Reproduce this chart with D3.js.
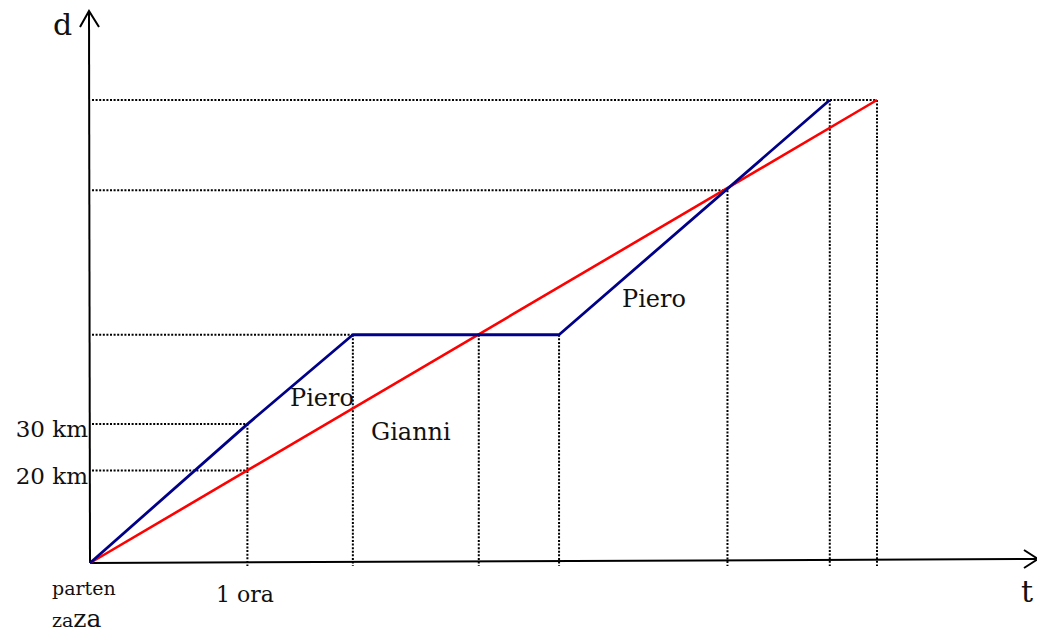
<!DOCTYPE html>
<html lang="it">
<head>
<meta charset="UTF-8">
<title>Piero e Gianni</title>
<script src="https://d3js.org/d3.v7.min.js"></script>
<style>
    body { margin: 0; background: #fff; }
    svg text { font-family: "DejaVu Serif", serif; fill: #111; }
</style>
</head>
<body>
<svg id="chart"></svg>
<script>
// tempo in ore, distanza in km
var pieroT = [0, 1, 1.67, 2.98, 4.7];
var pieroD = [0, 30, 49.3, 49.3, 100];
var gianniT = [0, 5];
var gianniD = [0, 100];

// linee tratteggiate di riferimento
var hGuideD = [100, 80.5, 49.3, 30, 20];
var hGuideT = [5, 4.05, 1.67, 1, 1];
var vGuideT = [1, 1.67, 2.47, 2.98, 4.05, 4.7, 5];
var vGuideD = [30, 49.3, 49.3, 49.3, 80.5, 100, 100];

var yTicks = [20, 30];
var yTickLabels = ["20 km", "30 km"];
var xTicks = [1];
var xTickLabels = ["1 ora"];

var width = 1037, height = 632;

var svg = d3.select("#chart").attr("width", width).attr("height", height);

var x = d3.scaleLinear().domain([0, 5]).range([90, 877]);
var y = d3.scaleLinear().domain([0, 100]).range([563, 100]);

// guide orizzontali
svg.selectAll(".hguide")
    .data(hGuideD)
    .enter()
    .append("line")
    .attr("class", "hguide")
    .attr("x1", x(0) + 2)
    .attr("x2", function(d, i) { return x(hGuideT[i]); })
    .attr("y1", function(d) { return y(d); })
    .attr("y2", function(d) { return y(d); })
    .attr("stroke", "#000")
    .attr("stroke-width", 2)
    .attr("stroke-dasharray", "2,1.6");

// guide verticali
svg.selectAll(".vguide")
    .data(vGuideT)
    .enter()
    .append("line")
    .attr("class", "vguide")
    .attr("x1", function(d) { return x(d); })
    .attr("x2", function(d) { return x(d); })
    .attr("y1", function(d, i) { return y(vGuideD[i]); })
    .attr("y2", y(0) + 3)
    .attr("stroke", "#000")
    .attr("stroke-width", 2)
    .attr("stroke-dasharray", "2,1.6");

// assi
svg.append("line")
    .attr("x1", x(0)).attr("y1", y(0))
    .attr("x2", 1036).attr("y2", y(0) - 4)
    .attr("stroke", "#000").attr("stroke-width", 2);
svg.append("line")
    .attr("x1", x(0)).attr("y1", y(0))
    .attr("x2", 89).attr("y2", 12)
    .attr("stroke", "#000").attr("stroke-width", 2);

// frecce
svg.append("path")
    .attr("d", "M80,27 L89,11 L99,27")
    .attr("fill", "none").attr("stroke", "#000").attr("stroke-width", 2);
svg.append("path")
    .attr("d", "M1024,550 L1038,559 L1024,568")
    .attr("fill", "none").attr("stroke", "#000").attr("stroke-width", 2);

// serie
var line = d3.line()
    .x(function(d) { return x(d[0]); })
    .y(function(d) { return y(d[1]); });

svg.append("path")
    .datum(d3.zip(gianniT, gianniD))
    .attr("d", line)
    .attr("fill", "none")
    .attr("stroke", "#ff0000")
    .attr("stroke-width", 2.6);

svg.append("path")
    .datum(d3.zip(pieroT, pieroD))
    .attr("d", line)
    .attr("fill", "none")
    .attr("stroke", "#000088")
    .attr("stroke-width", 2.8)
    .attr("stroke-linejoin", "round");

// etichette asse y
var yAxis = svg.append("g")
    .attr("transform", "translate(" + x(0) + ",0)")
    .call(d3.axisLeft(y).tickValues(yTicks).tickSize(0).tickPadding(2)
        .tickFormat(function(d, i) { return yTickLabels[i]; }));
yAxis.select(".domain").remove();
yAxis.selectAll("text")
    .attr("dy", "0.55em")
    .style("font-family", "DejaVu Serif, serif")
    .style("font-size", "23px")
    .attr("fill", "#111");

// etichette asse x
var xAxis = svg.append("g")
    .attr("transform", "translate(0," + y(0) + ")")
    .call(d3.axisBottom(x).tickValues(xTicks).tickSize(0).tickPadding(0)
        .tickFormat(function(d, i) { return xTickLabels[i]; }));
xAxis.select(".domain").remove();
xAxis.selectAll("text")
    .attr("y", 39)
    .attr("dy", 0)
    .attr("dx", -3)
    .style("font-family", "DejaVu Serif, serif")
    .style("font-size", "22px")
    .attr("fill", "#111");

// testi
svg.append("text").attr("x", 53).attr("y", 35).style("font-size", "30px").text("d");
svg.append("text").attr("x", 1021).attr("y", 602).style("font-size", "30px").text("t");

svg.append("text").attr("x", 290).attr("y", 406).style("font-size", "24px").text("Piero");
svg.append("text").attr("x", 371).attr("y", 440).style("font-size", "24px").text("Gianni");
svg.append("text").attr("x", 622).attr("y", 307).style("font-size", "24px").text("Piero");

svg.append("text").attr("x", 52).attr("y", 595).style("font-size", "19px").text("parten");
var za = svg.append("text").attr("x", 52).attr("y", 627);
za.append("tspan").style("font-size", "19px").text("za");
za.append("tspan").style("font-size", "25px").text("za");
</script>
</body>
</html>
